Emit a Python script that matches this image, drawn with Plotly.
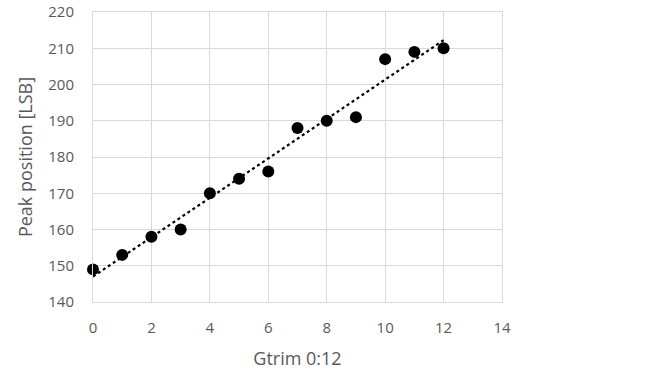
import numpy as np
import plotly.graph_objects as go

gtrim = [0, 1, 2, 3, 4, 5, 6, 7, 8, 9, 10, 11, 12]
peak = [149, 153, 158, 160, 170, 174, 176, 188, 190, 191, 207, 209, 210]
x_ticks = [0, 2, 4, 6, 8, 10, 12, 14]
y_ticks = [140, 150, 160, 170, 180, 190, 200, 210, 220]

slope, intercept = np.polyfit(gtrim, peak, 1)
trend_x = [min(gtrim), max(gtrim)]
trend_y = [intercept + slope * v for v in trend_x]

fig = go.Figure()
fig.add_trace(go.Scatter(x=trend_x, y=trend_y, mode="lines",
                         line=dict(color="black", width=2.2, dash="dot"),
                         hoverinfo="skip", cliponaxis=False))
fig.add_trace(go.Scatter(x=gtrim, y=peak, mode="markers",
                         marker=dict(color="black", size=12), cliponaxis=False))

font = dict(family="Open Sans, Liberation Sans, sans-serif", size=15, color="#595959")
fig.update_layout(
    width=660, height=373,
    margin=dict(l=93, r=158, t=12, b=71, autoexpand=False),
    paper_bgcolor="white", plot_bgcolor="white",
    showlegend=False,
    font=font,
)
fig.update_xaxes(range=[0, 14], tickvals=x_ticks, showgrid=True, gridcolor="#d9d9d9",
                 gridwidth=1, zeroline=False, showline=True, mirror=True,
                 linecolor="#d9d9d9", linewidth=1,
                 ticks="outside", ticklen=12, tickcolor="rgba(0,0,0,0)",
                 title=dict(text="Gtrim 0:12", standoff=16), tickfont=font,
                 automargin=False)
fig.update_yaxes(range=[140, 220], tickvals=y_ticks, showgrid=True, gridcolor="#d9d9d9",
                 gridwidth=1, zeroline=False, showline=True, mirror=True,
                 linecolor="#d9d9d9", linewidth=1,
                 ticks="outside", ticklen=15, tickcolor="rgba(0,0,0,0)",
                 title=dict(text="Peak position [LSB]", standoff=10), tickfont=font,
                 automargin=False)
fig.write_html("out.html", config={"displayModeBar": False},
               post_script="document.body.style.margin='0';document.body.style.overflow='hidden';")
